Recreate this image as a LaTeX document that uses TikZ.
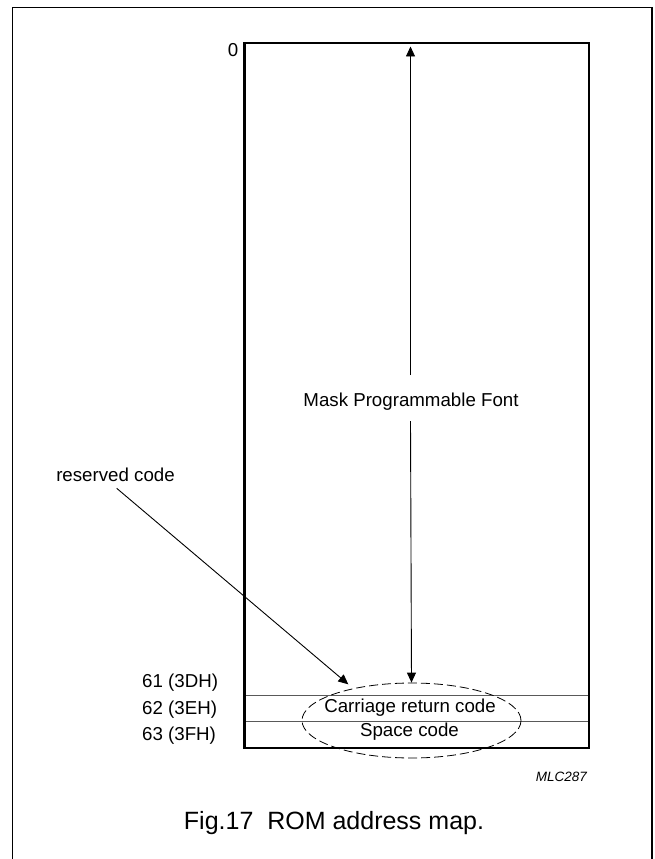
\documentclass[tikz,border=0pt]{standalone}
\usepackage{fontspec}
\setmainfont{Liberation Sans}
\usetikzlibrary{arrows.meta,shapes.geometric}
\begin{document}
\begin{tikzpicture}[x=1pt,y=-1pt,
  lbl/.style={inner sep=0pt, font=\fontsize{18.7}{22}\selectfont},
  divider/.style={line width=0.8pt, black!65},
  arr/.style={line width=0.9pt, -{Triangle[length=10pt,width=9pt]}}]
\useasboundingbox (0,0) rectangle (654,859);
% outer frame
\draw[line width=1.2pt] (12.5,859) -- (12.5,7.5) -- (652,7.5) -- (652,859);
% ROM block
\draw[divider] (243,695.5) -- (587.5,695.5);
\draw[divider] (243,721.5) -- (587.5,721.5);
\node[draw, line width=2.5pt, inner sep=0pt, minimum width=344.5pt, minimum height=704.5pt, anchor=north west] (rom) at (243,42) {};
% labels
\node[lbl, anchor=east] (zero) at (238.5,50) {0};
\node[lbl, anchor=west] (a61) at (142,683) {61 (3DH)};
\node[lbl, anchor=west] (a62) at (142,710) {62 (3EH)};
\node[lbl, anchor=west] (a63) at (142,736) {63 (3FH)};
\node[lbl] (mpf) at (411,402) {Mask Programmable Font};
\node[lbl] (crc) at (410,708) {Carriage return code};
\node[lbl] (spc) at (409.5,732) {Space code};
\node[lbl] (res) at (115.5,475) {reserved code};
\node[inner sep=0pt, anchor=east, font=\fontsize{13.5}{16}\selectfont\itshape] (mlc) at (587,777) {MLC287};
\node[inner sep=0pt, font=\fontsize{25}{30}\selectfont] (cap) at (334,823) {Fig.17\ \ ROM address map.};
% reserved-code ellipse
\node[draw, dashed, dash pattern=on 9pt off 4pt, line width=0.8pt, ellipse, inner sep=0pt,
      minimum width=219pt, minimum height=75pt] (ell) at (411.5,720.5) {};
% arrows
\coordinate (uptip) at (410.5,46.5);
\coordinate (upstart) at (410.5,375);
\coordinate (dnstart) at (410.5,421);
\coordinate (rstart) at (116.7,488.3);
\coordinate (rtip) at (348.3,684.3);
\draw[arr] (upstart) -- (uptip);
\draw[arr] (dnstart) -- (ell.north);
\draw[arr] (rstart) -- (rtip);
\end{tikzpicture}
\end{document}
